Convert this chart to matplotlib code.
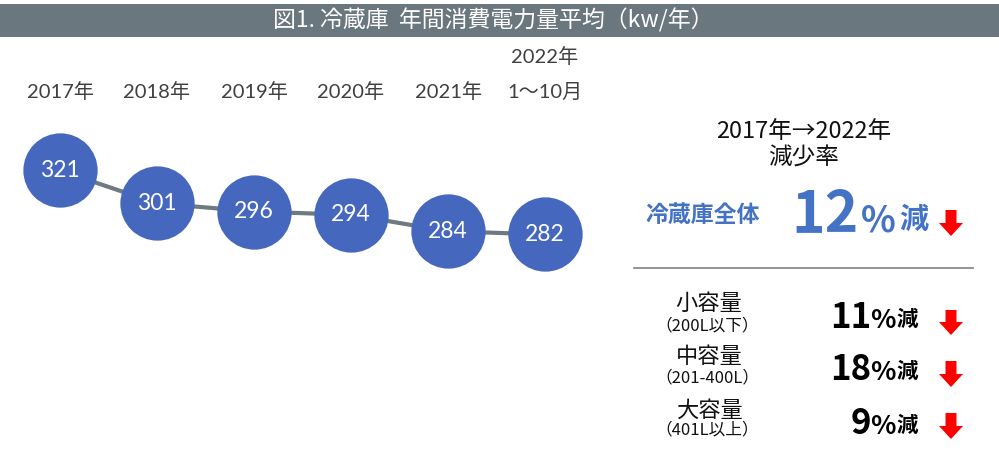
import matplotlib
matplotlib.use("Agg")
import matplotlib.pyplot as plt
from matplotlib.patches import Polygon, Rectangle
from matplotlib.lines import Line2D

plt.rcParams['font.family'] = ['Noto Sans CJK JP', 'DejaVu Sans']

# ---- data ----
title = "図1. 冷蔵庫  年間消費電力量平均（kw/年）"
years = ["2017年", "2018年", "2019年", "2020年", "2021年", "1～10月"]
year_top_label = "2022年"
values = [321, 301, 296, 294, 284, 282]

summary_head = ["2017年→2022年", "減少率"]
total_label = "冷蔵庫全体"
total_pct = "12"
size_names = ["小容量", "中容量", "大容量"]
size_ranges = ["（200L以下）", "（201-400L）", "（401L以上）"]
size_pcts = ["11", "18", "9"]

W, H = 999, 461
fig = plt.figure(figsize=(W / 100, H / 100), dpi=100)
fig.patch.set_facecolor("white")

def fx(px):
    return px / W

def fy(py):
    return 1 - py / H

# title bar
fig.patches.append(Rectangle((0, fy(37)), 1, fy(4) - fy(37), transform=fig.transFigure,
                             facecolor="#6b777e", edgecolor="none"))
fig.text(fx(493), fy(20.5), title, color="white", fontsize=16.5, ha="center", va="center")

# bubble chart axes (full figure, data scales)
ax = fig.add_axes([0, 0, 1, 1])
ax.set_axis_off()
ax.set_xlim(-60 / 97, (999 - 60) / 97)
slope = 1.641
ax.set_ylim(321 - (461 - 170.5) / slope, 321 + 170.5 / slope)
xs = list(range(len(values)))
ax.plot(xs, values, color="#6d7b80", lw=3, zorder=1, solid_capstyle="butt")
ax.plot(xs, values, "o", ms=53.5, color="#4568be", mec="none", zorder=2)
for x, v in zip(xs, values):
    ax.text(x, v, str(v), color="white", fontsize=16.5, ha="center", va="center",
            family=["Lato", "Noto Sans CJK JP"], zorder=3)

lab_font = dict(color="#404040", fontsize=14.5, ha="center", va="center",
                family=["Lato", "Noto Sans CJK JP"])
for x, lab in zip(xs, years):
    ax.annotate(lab, xy=(x, 0), xycoords=("data", "figure fraction"),
                xytext=(0, (H - 92) * 0.72), textcoords="offset points", **lab_font)
ax.annotate(year_top_label, xy=(xs[-1], 0), xycoords=("data", "figure fraction"),
            xytext=(0, (H - 57) * 0.72), textcoords="offset points", **lab_font)

# right panel
fig.text(fx(804), fy(131), summary_head[0], fontsize=17, ha="center", va="center", color="#111111")
fig.text(fx(804), fy(158), summary_head[1], fontsize=17, ha="center", va="center", color="#111111")
blue = "#4472c4"
fig.text(fx(703), fy(215), total_label, fontsize=16.5, fontweight="bold", color=blue,
         ha="center", va="center")
fig.text(fx(859), fy(215), total_pct, fontsize=41, fontweight="bold", color=blue,
         ha="right", va="center")
fig.text(fx(878), fy(221), "%", fontsize=26, fontweight="bold", color=blue,
         ha="center", va="center")
fig.text(fx(914), fy(219), "減", fontsize=21, fontweight="bold", color=blue,
         ha="center", va="center")

def down_arrow(cx, top, bottom):
    hw, sw = 12, 5.5
    head_top = bottom - 13
    pts = [(cx - sw, top), (cx + sw, top), (cx + sw, head_top), (cx + hw, head_top),
           (cx, bottom), (cx - hw, head_top), (cx - sw, head_top)]
    fig.patches.append(Polygon([(fx(a), fy(b)) for a, b in pts], closed=True,
                               transform=fig.transFigure, facecolor="#ff0000",
                               edgecolor="none"))

down_arrow(951, 210, 236)

fig.lines.append(Line2D([fx(634), fx(973)], [fy(268), fy(268)], transform=fig.transFigure,
                        color="#808080", lw=1.2))

name_y = [303, 356, 410]
range_y = [326, 378, 430]
pct_y = [317, 369, 423]
arrow_y = [(310, 335), (361, 387), (413, 439)]
for i in range(3):
    fig.text(fx(709), fy(name_y[i]), size_names[i], fontsize=16, ha="center", va="center",
             color="#111111")
    fig.text(fx(707), fy(range_y[i]), size_ranges[i], fontsize=12, ha="center",
             va="center", color="#111111")
    fig.text(fx(871), fy(pct_y[i]), size_pcts[i], fontsize=25, fontweight="bold",
             ha="right", va="center", color="black")
    fig.text(fx(883), fy(pct_y[i] + 3), "%", fontsize=19, fontweight="bold",
             ha="center", va="center", color="black")
    fig.text(fx(907), fy(pct_y[i] + 2), "減", fontsize=15.5, fontweight="bold",
             ha="center", va="center", color="black")
    down_arrow(951, *arrow_y[i])

fig.savefig("out.png", dpi=100, facecolor="white")
